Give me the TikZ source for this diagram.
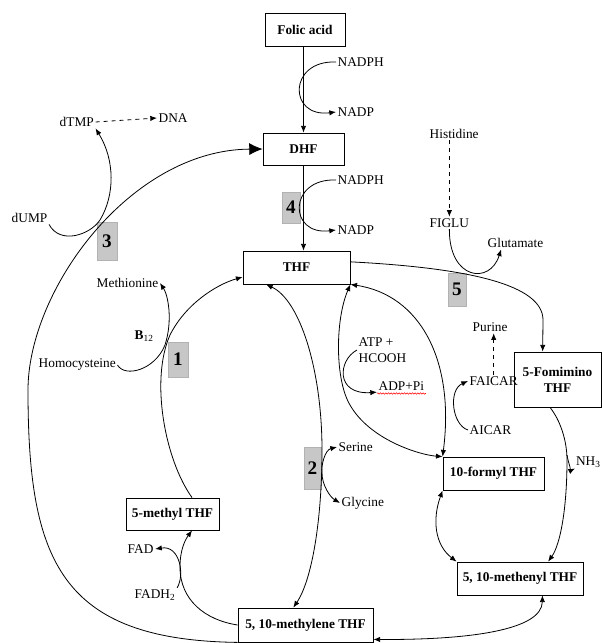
\documentclass[tikz,border=0pt]{standalone}
\usepackage{fontspec}
\setmainfont{Liberation Serif}
\usetikzlibrary{arrows.meta,decorations.pathmorphing}
\tikzstyle{box} = [draw=black, fill=white, font={\bfseries}, align=center, inner sep=0pt]
\tikzstyle{enzyme} = [draw=black!30, fill=black!22, font={\Large\bfseries}, inner sep=0pt]
\tikzstyle{chem} = [anchor=west, align=left, inner sep=1pt]
\tikzstyle{bigtip} = [-{Latex[length=10pt,width=9pt]}]

\begin{document}
\begin{tikzpicture}[x=0.75pt, y=-0.75pt, >={Latex[length=5pt,width=4pt]}, line width=0.6pt]
        \useasboundingbox (0,0) rectangle (602,643);
        % folate forms
        \node[box, minimum width=60pt, minimum height=24.75pt](folic) at (305,29.5){Folic acid};
        \node[box, minimum width=60.75pt, minimum height=24pt](dhf) at (303.5,149){DHF};
        \node[box, minimum width=80.25pt, minimum height=24.75pt](thf) at (296.5,267.5){THF};
        \node[box, minimum width=65.25pt, minimum height=41.25pt](fomimino) at (557.5,379.5){5-Fomimino\\THF};
        \node[box, minimum width=75.75pt, minimum height=24.75pt](formyl) at (493.5,473.5){10-formyl THF};
        \node[box, minimum width=94.5pt, minimum height=24.75pt](methenyl) at (520,578.5){5, 10-methenyl THF};
        \node[box, minimum width=101.25pt, minimum height=25.5pt](methylene) at (305.5,625){5, 10-methylene THF};
        \node[box, minimum width=69.75pt, minimum height=24pt](methyl) at (172.5,514){5-methyl THF};
        % enzymes
        \node[enzyme, minimum width=15pt, minimum height=28.5pt](e3) at (107,241){3};
        \node[enzyme, minimum width=13.5pt, minimum height=23.25pt](e4) at (291,207.5){4};
        \node[enzyme, minimum width=13.5pt, minimum height=24.75pt](e5) at (457,289.5){5};
        \node[enzyme, minimum width=15pt, minimum height=26.25pt](e1) at (178,359.5){1};
        \node[enzyme, minimum width=12.75pt, minimum height=31.5pt](e2) at (312.5,468){2};
        % substrates
        \node[chem](nadphA) at (336,62){NADPH};
        \node[chem](nadpA) at (336,112){NADP};
        \node[chem](nadphB) at (336,180){NADPH};
        \node[chem](nadpB) at (336,230){NADP};
        \node[chem](dtmp) at (58,122){dTMP};
        \node[chem](dna) at (157,118){DNA};
        \node[chem](dump) at (10,218){dUMP};
        \node[chem](methionine) at (95,283){Methionine};
        \node[chem](b12) at (133,336){\textbf{B}\textsubscript{12}};
        \node[chem](homocys) at (37,365){Homocysteine};
        \node[chem](histidine) at (428,134){Histidine};
        \node[chem](figlu) at (428,223){FIGLU};
        \node[chem](glutamate) at (486,243){Glutamate};
        \node[chem](atp) at (357,350){ATP +\\HCOOH};
        \node[chem](adp) at (377,386){ADP+Pi};
        \node[chem](purine) at (471,327){Purine};
        \node[chem](faicar) at (468,381){FAICAR};
        \node[chem](aicar) at (468,430){AICAR};
        \node[chem, inner sep=0.5pt](nh3) at (575,462){NH\textsubscript{3}};
        \node[chem](serine) at (337,447){Serine};
        \node[chem](glycine) at (340,503){Glycine};
        \node[chem](fad) at (126,549){FAD};
        \node[chem](fadh) at (133,595){FADH\textsubscript{2}};
        \coordinate (nhbranch) at (567,455);
        % reductions
        \draw[->](dhf.north |- folic.south)--(dhf.north);
        \draw[->](nadphA.west)..controls(288,60) and (288,118)..(nadpA.west);
        \draw[->](dhf.south)--(dhf.south |- thf.north);
        \draw[->](nadphB.west)..controls(288,178) and (288,236)..(nadpB.west);
        % thymidylate
        \draw[->,dashed](dtmp.east)--(dna.west);
        \draw[->](dump.south east)..controls(60,245) and (90,235)..(100,220)..controls(115,195) and (115,160)..(dtmp.south east);
        \draw[bigtip](methylene.south west)..controls(60,640) and (28,560)..(28,390)..controls(28,290) and (130,150)..(dhf.west);
        % methionine
        \draw[->](methyl.40)..controls(165,460) and (150,380)..(170,335)..controls(185,305) and (215,285)..(thf.190);
        \draw[->](homocys.east)..controls(125,378) and (155,370)..(165,345)..controls(173,320) and (168,295)..(methionine.east);
        \draw[->](methylene.west)..controls(205,620) and (180,600)..(180,567)..controls(180,550) and (185,540)..(methyl.320);
        \draw[->](fadh.north east)..controls(185,575) and (180,545)..(fad.east);
        % serine
        \draw[<->](thf.209)..controls(300,300) and (322,370)..(322,450)..controls(322,520) and (312,580)..(methylene.125);
        \draw[<->](serine.west)..controls(325,450) and (321,465)..(322,473)..controls(322,485) and (330,497)..(glycine.west);
        % formate
        \draw[<->](thf.south east)..controls(335,320) and (335,380)..(350,405)..controls(370,440) and (420,455)..(formyl.north west);
        \draw[<->](formyl.north west)..controls(455,360) and (420,295)..(thf.south east);
        \draw[->](atp.west)..controls(338,360) and (335,395)..(adp.south west);
        \draw[red, line width=0.4pt, decorate, decoration={snake, amplitude=0.5pt, segment length=2pt}]([yshift=-1pt]adp.south west)--([yshift=-1pt]adp.south east);
        \draw[->](aicar.west)..controls(452,425) and (448,390)..(faicar.west);
        \draw[->,dashed](faicar.north)--(faicar.north |- purine.south);
        \draw[<->](formyl.south west)..controls(432,520) and (435,545)..(methenyl.north west);
        \draw[<->](methylene.-12)..controls(470,640) and (542,630)..(methenyl.323);
        % histidine
        \draw[->,dashed](figlu.north |- histidine.south)--(figlu.north);
        \draw[->](figlu.south)..controls(449,280) and (490,285)..(glutamate.204);
        \draw[->](thf.6)..controls(470,268) and (543,285)..(543,320)--(fomimino.118);
        \draw[->](fomimino.255)..controls(560,420) and (567,440)..(567,460)..controls(567,510) and (560,545)..(methenyl.31);
        \draw[->](nhbranch)..controls(569,466) and (572,470)..(nh3.south west);
\end{tikzpicture}
\end{document}
